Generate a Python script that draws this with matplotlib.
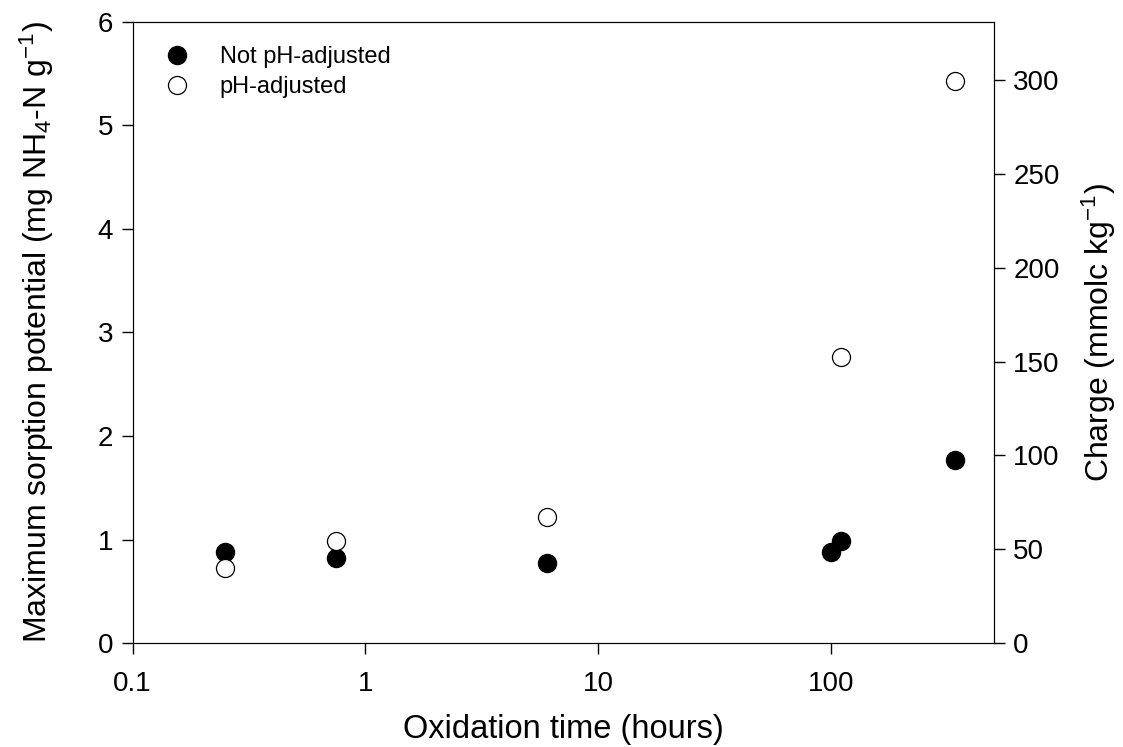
import matplotlib
matplotlib.use("Agg")
import matplotlib.pyplot as plt

plt.rcParams['font.family'] = ['Liberation Sans', 'DejaVu Sans']
plt.rcParams['mathtext.fontset'] = 'custom'
plt.rcParams['mathtext.rm'] = 'Liberation Sans'
plt.rcParams['mathtext.it'] = 'Liberation Sans'

# data
t_not = [0.25, 0.75, 6, 100, 110, 340]
y_not = [0.88, 0.82, 0.77, 0.88, 0.99, 1.77]
t_adj = [0.25, 0.75, 6, 110, 340]
y_adj = [0.73, 0.99, 1.22, 2.76, 5.43]

fig = plt.figure(figsize=(11.23, 7.47), dpi=100)
ax = fig.add_axes([0.118, 0.139, 0.767, 0.832])

ax.plot(t_not, y_not, 'o', color='black', markersize=13, label='Not pH-adjusted', zorder=3)
ax.plot(t_adj, y_adj, 'o', markerfacecolor='white', markeredgecolor='black',
        markeredgewidth=0.9, markersize=13, label='pH-adjusted', zorder=3)

ax.set_xscale('log')
ax.set_xlim(0.1, 500)
ax.set_ylim(0, 6)
ax.set_xticks([0.1, 1, 10, 100])
ax.set_xticklabels(['0.1', '1', '10', '100'])
ax.minorticks_off()
ax.set_yticks(range(7))
ax.tick_params(direction='out', length=8, width=1, labelsize=20, pad=6)
ax.tick_params(axis='x', pad=12)
ax.set_xlabel('Oxidation time (hours)', fontsize=23.5, labelpad=12)
ax.set_ylabel('Maximum sorption potential (mg NH$_4$-N g$^{-1}$)', fontsize=23, labelpad=30)

ax2 = ax.twinx()
ax2.set_ylim(0, 331)
ax2.set_yticks([0, 50, 100, 150, 200, 250, 300])
ax2.tick_params(direction='out', length=8, width=1, labelsize=20, pad=6)
ax2.set_ylabel('Charge (mmolc kg$^{-1}$)', fontsize=23, labelpad=14)

ax.legend(loc='upper left', frameon=False, fontsize=17, handletextpad=0.8,
          labelspacing=0.35, borderaxespad=0.5, bbox_to_anchor=(0.0, 0.995))

fig.savefig('out.png', dpi=100)
